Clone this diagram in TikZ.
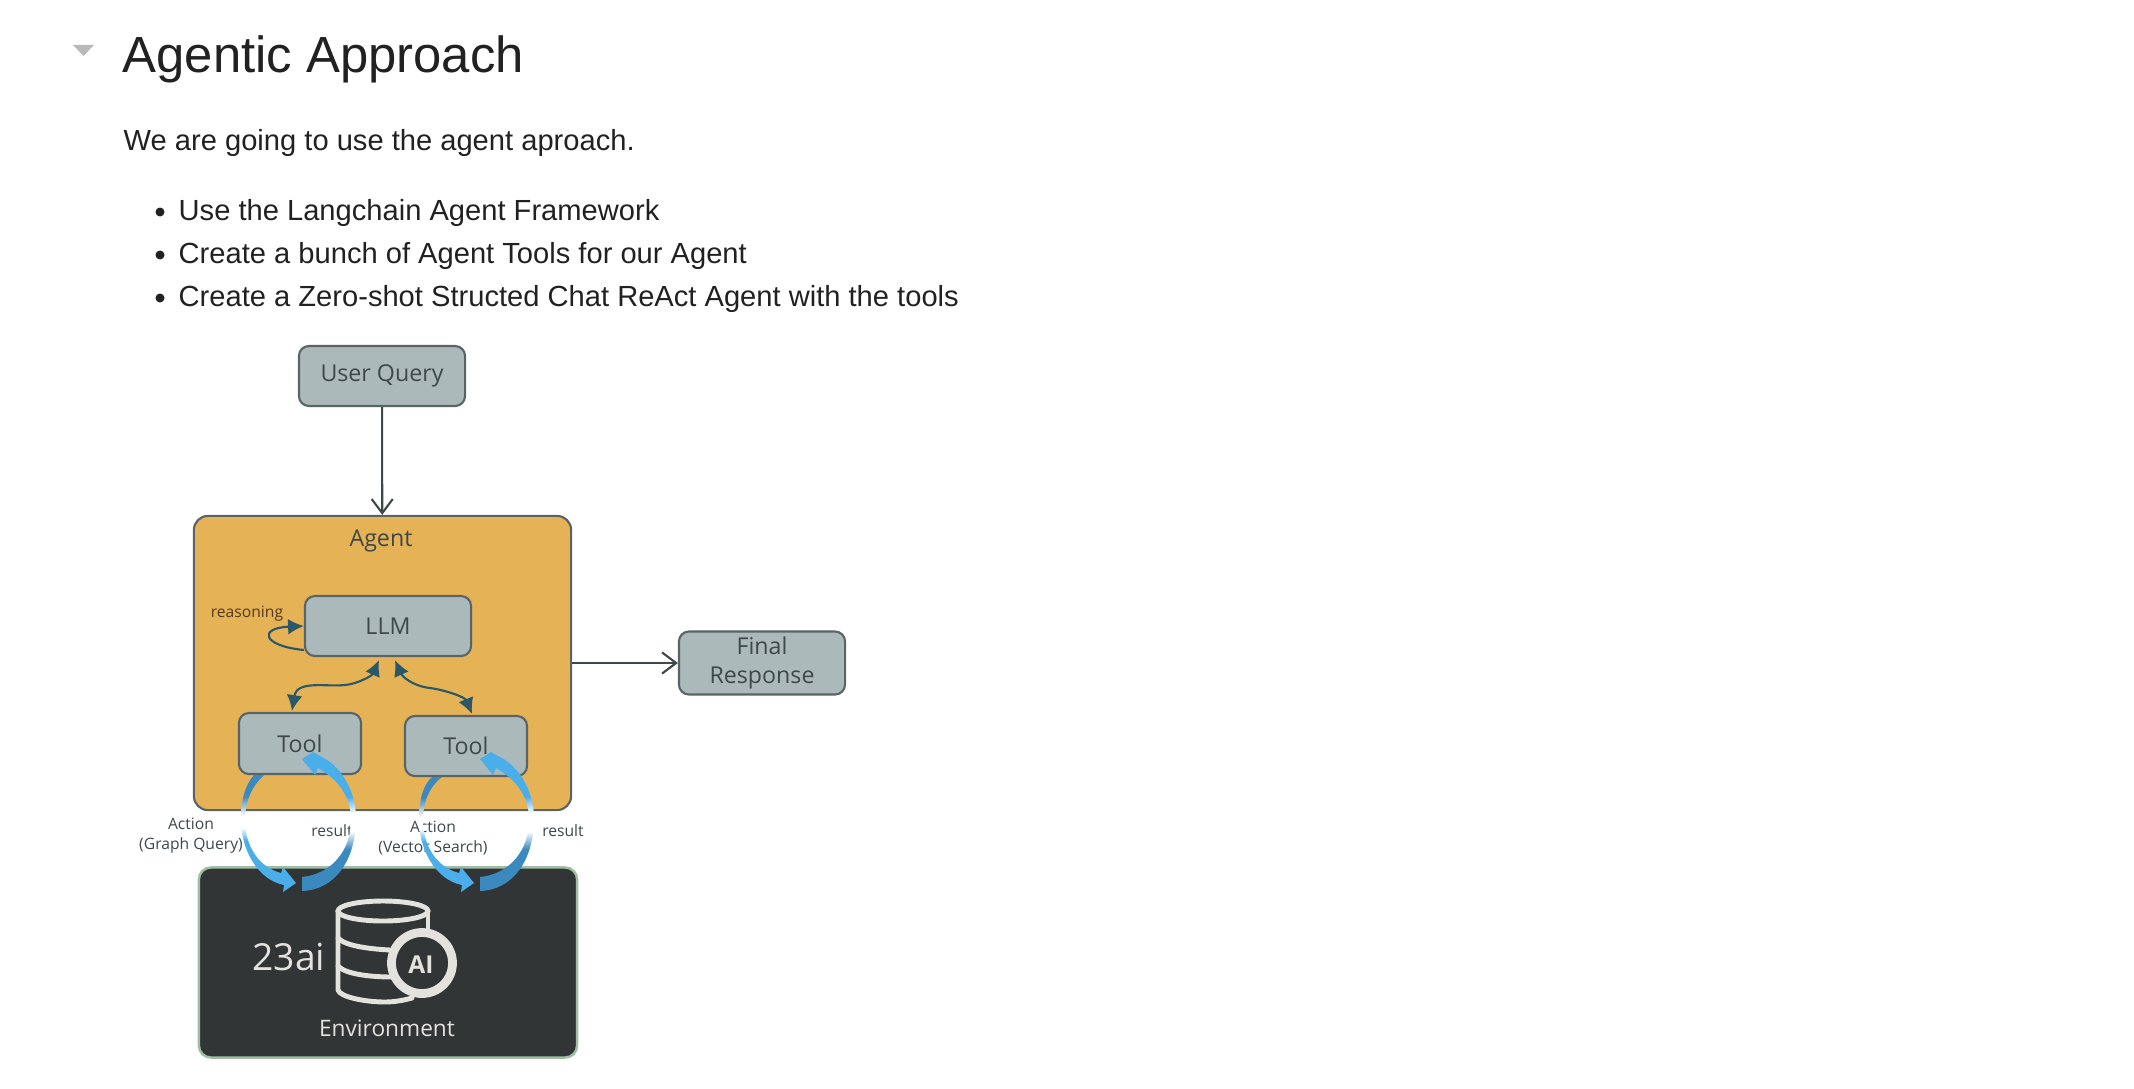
\documentclass[tikz,border=0pt]{standalone}
\usepackage{fontspec}
\usepackage{tikz}
\usetikzlibrary{arrows.meta,calc}
\setmainfont{Liberation Sans}
\newfontfamily\diagfont{Open Sans}
\definecolor{cBox}{RGB}{172,185,186}
\definecolor{cEdge}{RGB}{88,100,103}
\definecolor{cAgent}{RGB}{229,178,85}
\definecolor{cText}{RGB}{62,72,75}
\definecolor{cTeal}{RGB}{42,88,104}
\definecolor{cEnv}{RGB}{49,53,54}
\definecolor{cEnvEdge}{RGB}{160,190,165}
\definecolor{cIcon}{RGB}{228,226,221}
\definecolor{cBright}{RGB}{74,174,234}
\definecolor{cDeep}{RGB}{58,137,191}
\definecolor{cPage}{RGB}{33,33,33}
\pgfdeclareverticalshading{fadeAction}{100bp}{color(0bp)=(cBright); color(47bp)=(cBright); color(52.5bp)=(white); color(57.5bp)=(white); color(66bp)=(cDeep); color(100bp)=(cDeep)}
\pgfdeclareverticalshading{fadeResult}{100bp}{color(0bp)=(cDeep); color(40bp)=(cDeep); color(46.5bp)=(white); color(53bp)=(white); color(59bp)=(cBright); color(100bp)=(cBright)}
\tikzset{
  pagetext/.style={anchor=base west,text=cPage,font=\fontsize{8.28}{10}\selectfont,inner sep=0pt},
  greybox/.style={draw=cEdge,line width=0.6pt,fill=cBox,rounded corners=0.1cm,text=cText,align=center,inner sep=0pt,font=\diagfont\fontsize{6.6}{8}\selectfont},
  small/.style={text=cText,align=center,inner sep=0pt,font=\diagfont\fontsize{4.45}{5.7}\selectfont},
  flow/.style={draw=cText,line width=0.6pt,-{Straight Barb[length=4pt,width=6pt]}},
  link/.style={draw=cTeal,line width=0.6pt,{Latex[length=4.5pt,width=4.5pt]}-{Latex[length=4.5pt,width=4.5pt]}},
  loopback/.style={draw=cTeal,line width=0.6pt,-{Latex[length=4.5pt,width=4.5pt]}},
  iconline/.style={draw=cIcon,line width=1.4pt,line cap=round}
}
\begin{document}
\begin{tikzpicture}[x=0.01cm,y=-0.01cm]
  \useasboundingbox (0,0) rectangle (2134,1088);
  % page text
  \fill[gray!55] (73,45) -- (94,45) -- (83.5,56) -- cycle;
  \node[pagetext,font=\fontsize{14.45}{16}\selectfont] (title) at (122,73) {Agentic Approach};
  \node[pagetext] (intro) at (123,150) {We are going to use the agent aproach.};
  \node[pagetext] (itemA) at (178,221) {Use the Langchain Agent Framework};
  \node[pagetext] (itemB) at (178,263.5) {Create a bunch of Agent Tools for our Agent};
  \node[pagetext] (itemC) at (178,306) {Create a Zero-shot Structed Chat ReAct Agent with the tools};
  \foreach \yy in {212,255,298} \fill[cPage] (160,\yy) circle (4.5);
  % boxes
  \node[greybox,minimum width=1.66cm,minimum height=0.6cm] (userquery) at (382,376) {User Query};
  \node[greybox,fill=cAgent,rounded corners=0.14cm,minimum width=3.77cm,minimum height=2.94cm] (agent) at (382.5,663) {};
  \node[greybox,draw=none,fill=none] (agentlabel) at (381,541) {Agent};
  \node[greybox,minimum width=1.66cm,minimum height=0.6cm] (llm) at (388,626) {LLM};
  \node[greybox,minimum width=1.22cm,minimum height=0.61cm] (toolA) at (300,743.5) {Tool};
  \node[greybox,minimum width=1.22cm,minimum height=0.6cm] (toolB) at (466,746) {Tool};
  \node[greybox,minimum width=1.66cm,minimum height=0.63cm] (finalresp) at (762,663) {Final\\Response};
  \node[draw=cEnvEdge,line width=0.7pt,fill=cEnv,rounded corners=0.12cm,minimum width=3.78cm,minimum height=1.9cm,inner sep=0pt] (env) at (388,962.5) {};
  % connectors
  \draw[flow] (userquery) -- (agent);
  \draw[flow] (agent) -- (finalresp);
  \draw[loopback] ($(llm.west)+(0,24)$) .. controls (262,646) and (258,628) .. (llm.west);
  \draw[link] ($(toolA.north)+(-8,-1)$) .. controls (297,680) and (325,687) .. (345,685) .. controls (357,684) and (372,676) .. ($(llm.south)+(-9,3)$);
  \draw[link] ($(toolB.north)+(6,-1)$) .. controls (465,697) and (445,690) .. (430,688) .. controls (412,686) and (402,676) .. ($(llm.south)+(7,3)$);
  % labels round the environment
  \node[small,text=black!55!brown] (reasoning) at (247,614) {reasoning};
  \node[small] (actionA) at (191,836) {Action\\(Graph Query)};
  \node[small] (resultA) at (332,831) {result};
  \node[small] (actionB) at (433,838) {Action\\(Vector Search)};
  \node[small] (resultB) at (563,831) {result};
  % blue arrows
  \foreach \dx/\dy in {0/0,178/2} {
    \begin{scope}[xshift=\dx*0.01cm]
      \shade[shading=fadeAction] (264,775+\dy) .. controls (253,785) and (245,800) .. (245,820)
        .. controls (245,845) and (258,867) .. (281,873) -- (283,867) -- (296,883) -- (283,892) -- (284,885)
        .. controls (258,880) and (241,850) .. (241,820) .. controls (241,800) and (245,785) .. (254,775+\dy) -- cycle;
      \shade[shading=fadeResult] (302,891) .. controls (335,890) and (356,860) .. (356,818)
        .. controls (356,790) and (340,765) .. (320,756) -- (313,752) -- (302,759) -- (315,775) -- (318,768)
        .. controls (337,779) and (351,795) .. (351,820) .. controls (351,850) and (332,874) .. (302,877) -- cycle;
    \end{scope}
  }
  % database icon
  \draw[iconline] (383,911) ellipse (45 and 10);
  \draw[iconline] (338,911) -- (338,990) .. controls (340,997) and (365,1002) .. (385,1002) .. controls (395,1002) and (405,1000) .. (412,998);
  \draw[iconline] (428,911) -- (428,930);
  \draw[iconline] (338,938) .. controls (345,946) and (370,949) .. (390,950);
  \draw[iconline] (338,966) .. controls (345,974) and (370,977) .. (392,977);
  \draw[fill=cEnv,draw=cIcon,line width=2.5pt] (422,963) circle (30.5);
  \node[inner sep=0pt,text=cIcon,font=\diagfont\bfseries\fontsize{7}{8}\selectfont] (ailabel) at (421,965) {AI};
  \node[inner sep=0pt,text=cIcon,font=\diagfont\fontsize{10.6}{12}\selectfont] (dbname) at (289,957) {23ai};
  \node[inner sep=0pt,text=cIcon,font=\diagfont\fontsize{6.45}{8}\selectfont] (envlabel) at (387,1028) {Environment};
\end{tikzpicture}
\end{document}
